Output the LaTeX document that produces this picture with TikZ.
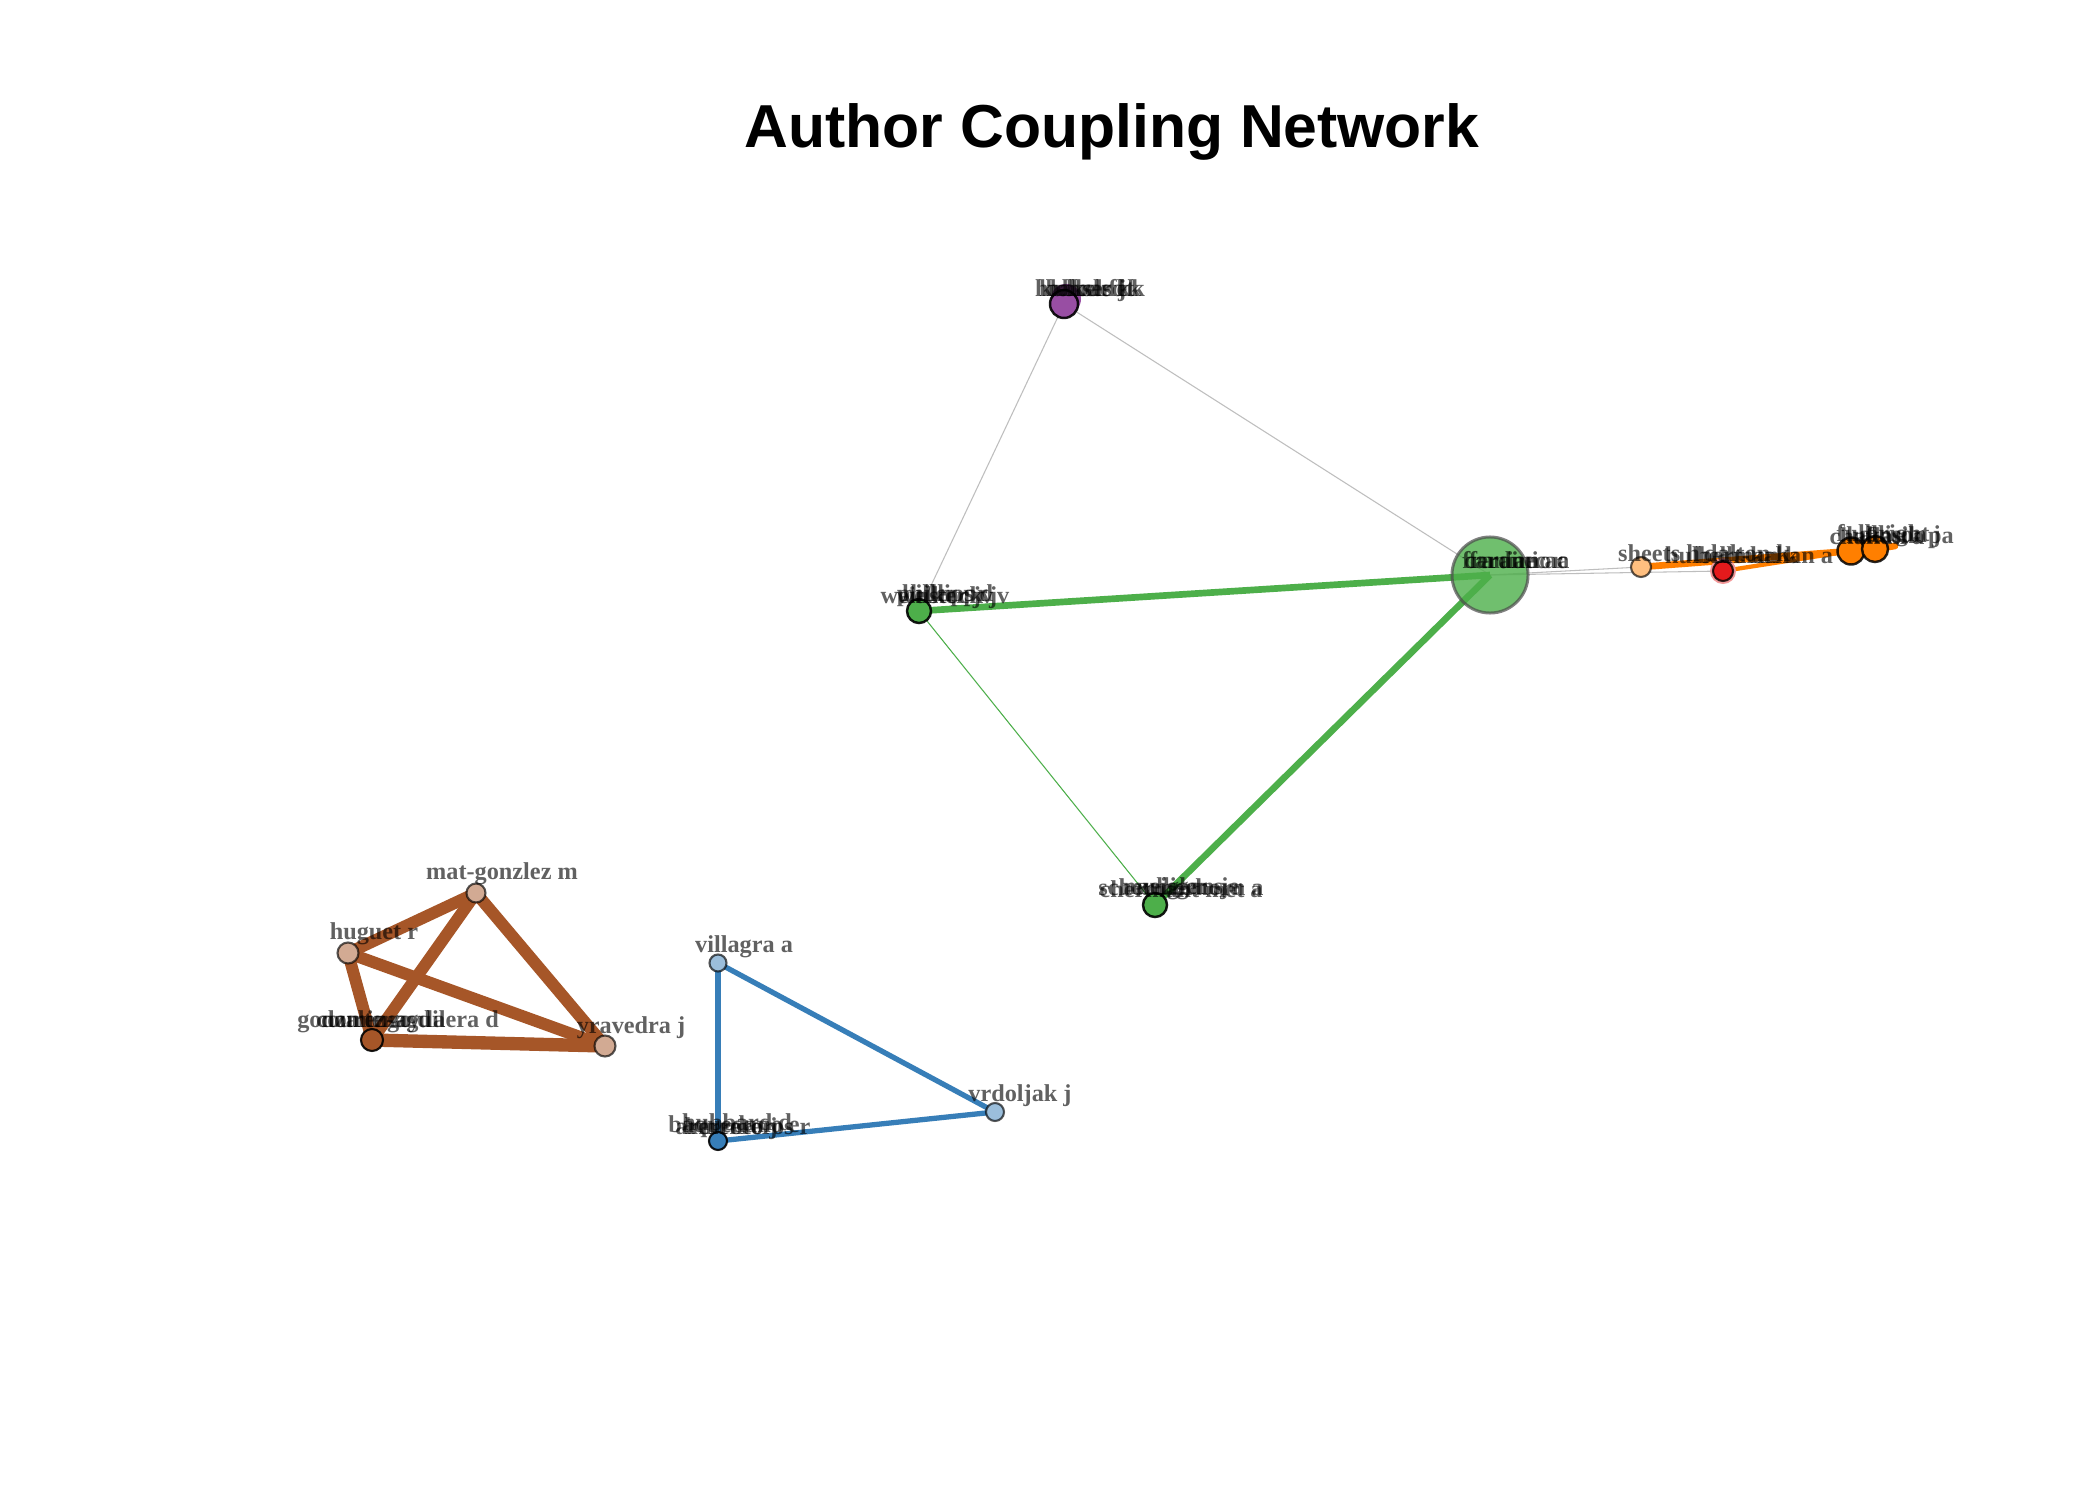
\documentclass[tikz,border=0pt]{standalone}
\usepackage{fontspec}
\setmainfont{Liberation Serif}
\newfontfamily\titlefont{Liberation Sans}
\definecolor{cbrown}{HTML}{A65628}
\definecolor{cblue}{HTML}{377EB8}
\definecolor{cgreen}{HTML}{4DAF4A}
\definecolor{cpurple}{HTML}{984EA3}
\definecolor{corange}{HTML}{FF7F00}
\definecolor{cred}{HTML}{E41A1C}
\definecolor{cgray}{HTML}{BEBEBE}
\pgfdeclarelayer{back}
\pgfdeclarelayer{bg}
\pgfsetlayers{back,bg,main}
\tikzset{
  lbl/.style={font=\bfseries\fontsize{6.9pt}{8pt}\selectfont, text=black, text opacity=0.62, anchor=base, inner sep=0pt},
  vtx/.style={circle, inner sep=0pt, draw=black, draw opacity=0.65, line width=0.6pt},
  brownedge/.style={draw=cbrown, line width=3.4pt},
  blueedge/.style={draw=cblue, line width=1.5pt},
  greenedge/.style={draw=cgreen, line width=1.9pt},
  thingreen/.style={draw=cgreen, line width=0.3pt},
  grayedge/.style={draw=cgray, line width=0.3pt},
  orangeedge/.style={draw=corange, line width=1.9pt, line cap=round},
}
\begin{document}
\begin{tikzpicture}[x=0.01cm, y=-0.01cm]
\begin{pgfonlayer}{back}
\fill[white] (0,0) rectangle (2100,1500);
\end{pgfonlayer}
\useasboundingbox (0,0) rectangle (2100,1500);

% title
\node[font=\titlefont\bfseries\fontsize{17.25pt}{20pt}\selectfont, anchor=base, inner sep=0pt] (title) at (1112,148) {Author Coupling Network};

% node coordinates
\coordinate (pmat) at (476,893);
\coordinate (phug) at (348,953);
\coordinate (pgon) at (372,1040);
\coordinate (pyra) at (605,1046);
\coordinate (pvil) at (718,963);
\coordinate (pvrd) at (995,1112);
\coordinate (parm) at (718,1141);
\coordinate (ppur) at (1064,304);
\coordinate (pfra) at (1490,575);
\coordinate (pwel) at (919,611);
\coordinate (psch) at (1155,905);
\coordinate (pshe) at (1641,567);
\coordinate (pred) at (1723,571);
\coordinate (por1) at (1851,551);
\coordinate (por2) at (1875,549);
\coordinate (oend) at (1895,546);

% vertices
\node[vtx, fill=cbrown!50, minimum size=0.19cm] (mat) at (pmat) {};
\node[vtx, fill=cbrown!50, minimum size=0.21cm] (hug) at (phug) {};
\node[vtx, fill=cbrown, draw opacity=0.9, minimum size=0.22cm] (gon) at (pgon) {};
\node[vtx, fill=cbrown!50, minimum size=0.21cm] (yra) at (pyra) {};

\node[vtx, fill=cblue!50, minimum size=0.17cm] (vil) at (pvil) {};
\node[vtx, fill=cblue!50, minimum size=0.18cm] (vrd) at (pvrd) {};
\node[vtx, fill=cblue, draw opacity=0.9, minimum size=0.18cm] (arm) at (parm) {};

\node[circle, inner sep=0pt, fill=cpurple, minimum size=0.3cm] (pur2) at (1066,299) {};
\node[vtx, fill=cpurple, draw opacity=0.9, line width=0.7pt, minimum size=0.28cm] (pur) at (ppur) {};

\node[circle, inner sep=0pt, fill=cgreen, fill opacity=0.8, draw=black!70, draw opacity=0.7, line width=0.85pt, minimum size=0.76cm] (fra) at (pfra) {};
\node[vtx, fill=cgreen, draw opacity=0.9, line width=0.7pt, minimum size=0.24cm] (wel) at (pwel) {};
\node[vtx, fill=cgreen, draw opacity=0.9, line width=0.7pt, minimum size=0.24cm] (sch) at (psch) {};

\node[vtx, fill=corange!50, minimum size=0.2cm] (she) at (pshe) {};
\node[circle, inner sep=0pt, fill=cred!45, minimum size=0.26cm] (redhalo) at (pred) {};
\node[vtx, fill=cred, draw opacity=0.8, minimum size=0.2cm] (red) at (pred) {};
\node[vtx, fill=corange, draw opacity=0.85, line width=0.7pt, minimum size=0.27cm] (or1) at (por1) {};
\node[vtx, fill=corange, draw opacity=0.85, line width=0.7pt, minimum size=0.26cm] (or2) at (por2) {};

% edges
\begin{pgfonlayer}{bg}
\draw[brownedge] (mat.center) -- (hug.center);
\draw[brownedge] (mat.center) -- (gon.center);
\draw[brownedge] (mat.center) -- (yra.center);
\draw[brownedge] (hug.center) -- (gon.center);
\draw[brownedge] (hug.center) -- (yra.center);
\draw[brownedge, line width=3.8pt] (gon.center) -- (yra.center);

\draw[blueedge] (vil.center) -- (arm.center);
\draw[blueedge] (vil.center) -- (vrd.center);
\draw[blueedge] (arm.center) -- (vrd.center);

\draw[grayedge] (pur.center) -- (wel.center);
\draw[grayedge] (pur.center) -- (fra.center);
\draw[grayedge] (fra.center) -- (she.center);
\draw[grayedge] (fra.center) -- (red.center);
\draw[thingreen] (wel.center) -- (sch.center);
\draw[greenedge] (wel.center) -- (fra.center);
\draw[greenedge] (fra.center) -- (sch.center);

\draw[orangeedge] (she.center) -- (or1.center) -- (or2.center) -- (oend);
\draw[orangeedge, line width=1.2pt] (red.center) -- (or1.center);
\end{pgfonlayer}

% labels
\node[lbl] (lmat) at (502,879) {mat-gonzlez m};
\node[lbl] (lhug) at (374,939) {huguet r};
\node[lbl] (lgon1) at (398,1027) {gonzalez-aguilera d};
\node[lbl] (lgon2) at (381,1027) {courtenay la};
\node[lbl] (lgon3) at (376,1027) {domingo d};
\node[lbl] (lyra) at (631,1033) {yravedra j};

\node[lbl] (lvil) at (744,952) {villagra a};
\node[lbl] (lvrd) at (1020,1101) {vrdoljak j};
\node[lbl] (larm1) at (743,1134) {armenteros r};
\node[lbl] (larm2) at (734,1132) {baquedano e};
\node[lbl] (larm3) at (731,1134) {herrero j};
\node[lbl] (larm4) at (737,1130) {hubbard d};

\node[lbl] (lpur1) at (1090,296) {hubbard k};
\node[lbl] (lpur2) at (1090,296) {kuhnle ek};
\node[lbl] (lpur3) at (1090,296) {bakels jt};
\node[lbl] (lpur4) at (1090,296) {lohse fk};

\node[lbl] (lfra1) at (1516,568) {feranec r};
\node[lbl] (lfra2) at (1516,568) {cardini ac};
\node[lbl] (lfra3) at (1516,568) {franiano a};

\node[lbl] (lwel1) at (945,603) {welker jv};
\node[lbl] (lwel2) at (945,601) {phillips d};
\node[lbl] (lwel3) at (945,601) {hiller pr};
\node[lbl] (lwel4) at (945,603) {weinstock jv};

\node[lbl] (lsch1) at (1181,895) {schermerhorn a};
\node[lbl] (lsch2) at (1181,897) {chermant met a};
\node[lbl] (lsch3) at (1181,894) {mulligan je};
\node[lbl] (lsch4) at (1181,894) {zeigler s};

\node[lbl] (lshe) at (1659,561) {sheets h};
\node[lbl] (lred1) at (1749,563) {hulbert-kahan a};
\node[lbl] (lred2) at (1747,563) {hellman k};
\node[lbl] (lred3) at (1747,561) {dalton k};

\node[lbl] (lor1) at (1877,544) {chaflan a};
\node[lbl] (lor2) at (1900,543) {lukasik pa};
\node[lbl] (lor3) at (1900,542) {allison j};
\node[lbl] (lor4) at (1883,541) {fulbright};
\end{tikzpicture}
\end{document}
